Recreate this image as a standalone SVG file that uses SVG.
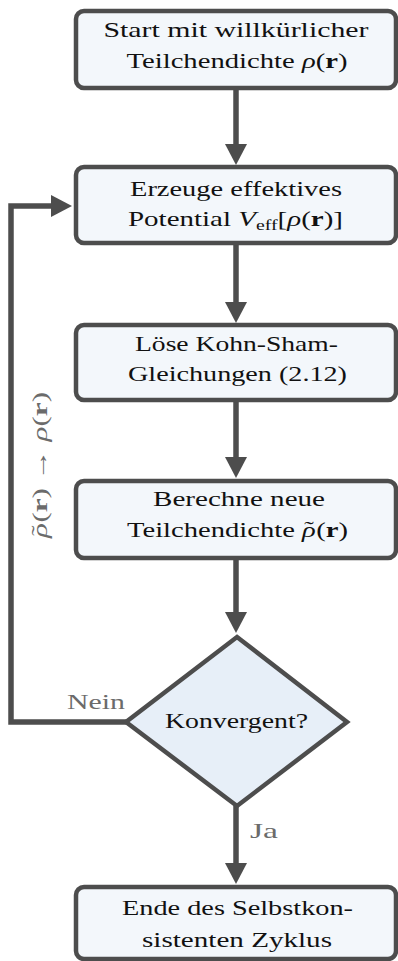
<svg xmlns="http://www.w3.org/2000/svg" width="398" height="961" viewBox="0 0 398 961">
<style>
.box{fill:#f3f7fb;stroke:#4d4d4d;stroke-width:4.5}
.dia{fill:#e7eff8;stroke:#4d4d4d;stroke-width:4.5;stroke-linejoin:miter}
.t{font-family:"Liberation Serif","Times New Roman",serif;font-size:22px;fill:#111;text-anchor:middle}
.lbl{font-family:"Liberation Serif","Times New Roman",serif;font-size:22px;fill:#6b6b6b}
.con{fill:none;stroke:#4d4d4d;stroke-width:5.5}
.i{font-style:italic}
.b{font-weight:bold}
.sub{font-size:15px}
</style>
<defs>
<marker id="ah" markerUnits="userSpaceOnUse" markerWidth="22" markerHeight="22" viewBox="0 0 22 22" refX="6" refY="11" orient="auto">
<path d="M0,0 L21,11 L0,22 z" fill="#4d4d4d"/>
</marker>
</defs>
<g id="connectors">
<path class="con" d="M236,89 V150" marker-end="url(#ah)"/>
<path class="con" d="M236,244 V308" marker-end="url(#ah)"/>
<path class="con" d="M236,400 V463" marker-end="url(#ah)"/>
<path class="con" d="M236,559 V618" marker-end="url(#ah)"/>
<path class="con" d="M236,806 V869" marker-end="url(#ah)"/>
<path class="con" d="M126,722 H11 V206 H57" marker-end="url(#ah)"/>
<text class="lbl" x="67" y="709" textLength="58" lengthAdjust="spacingAndGlyphs">Nein</text>
<text class="lbl" x="250" y="838" textLength="28" lengthAdjust="spacingAndGlyphs">Ja</text>
<text class="lbl" transform="translate(47,465) rotate(-90)" text-anchor="middle" textLength="146" lengthAdjust="spacingAndGlyphs"><tspan class="i">ρ</tspan><tspan dx="-9" dy="-1">˜</tspan><tspan dx="2" dy="1">(</tspan><tspan class="b">r</tspan>)  →  <tspan class="i">ρ</tspan>(<tspan class="b">r</tspan>)</text>
</g>
<g id="start">
<rect class="box" x="76" y="11" width="320" height="77" rx="8"/>
<text class="t" x="236" y="37" textLength="265" lengthAdjust="spacingAndGlyphs">Start mit willkürlicher</text>
<text class="t" x="237" y="68" textLength="221" lengthAdjust="spacingAndGlyphs">Teilchendichte <tspan class="i">ρ</tspan>(<tspan class="b">r</tspan>)</text>
</g>
<g id="potential">
<rect class="box" x="76" y="167" width="320" height="76" rx="8"/>
<text class="t" x="236" y="195.5" textLength="212" lengthAdjust="spacingAndGlyphs">Erzeuge effektives</text>
<text class="t" x="235.5" y="225.5" textLength="215" lengthAdjust="spacingAndGlyphs">Potential <tspan class="i">V</tspan><tspan class="sub" dy="4">eff</tspan><tspan dy="-4">[</tspan><tspan class="i">ρ</tspan>(<tspan class="b">r</tspan>)]</text>
</g>
<g id="kohnsham">
<rect class="box" x="76" y="325" width="320" height="75" rx="8"/>
<text class="t" x="236.5" y="350.5" textLength="203" lengthAdjust="spacingAndGlyphs">Löse Kohn-Sham-</text>
<text class="t" x="237.5" y="381" textLength="219" lengthAdjust="spacingAndGlyphs">Gleichungen (2.12)</text>
</g>
<g id="dichte">
<rect class="box" x="76" y="481" width="320" height="77" rx="8"/>
<text class="t" x="239" y="506" textLength="172" lengthAdjust="spacingAndGlyphs">Berechne neue</text>
<text class="t" x="237.5" y="536.5" textLength="221" lengthAdjust="spacingAndGlyphs">Teilchendichte <tspan class="i">ρ</tspan><tspan dx="-9" dy="-1">˜</tspan><tspan dx="2" dy="1">(</tspan><tspan class="b">r</tspan>)</text>
</g>
<g id="konvergent">
<polygon class="dia" points="237,637 347,722 237,806 126,722"/>
<text class="t" x="236.5" y="728" textLength="143" lengthAdjust="spacingAndGlyphs">Konvergent?</text>
</g>
<g id="ende">
<rect class="box" x="76" y="887" width="320" height="72" rx="8"/>
<text class="t" x="237.5" y="915" textLength="231" lengthAdjust="spacingAndGlyphs">Ende des Selbstkon-</text>
<text class="t" x="237" y="947" textLength="190" lengthAdjust="spacingAndGlyphs">sistenten Zyklus</text>
</g>
</svg>
